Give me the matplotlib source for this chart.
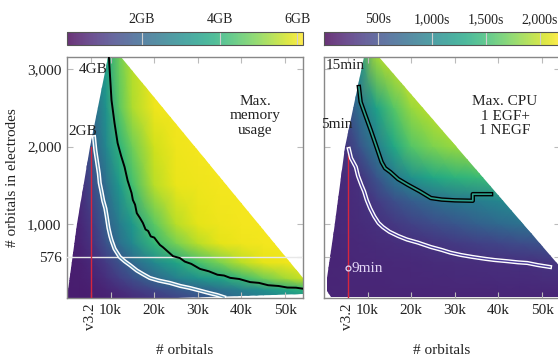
import matplotlib
matplotlib.use("Agg")
import matplotlib.pyplot as plt
from matplotlib.patches import Polygon
from matplotlib import patheffects as pe
from matplotlib.cm import ScalarMappable
from matplotlib.colors import Normalize

plt.rcParams['font.family'] = ['Liberation Serif', 'DejaVu Serif']

# ---- memory panel (GB), grid ----
MEM_X = [0, 3000, 6000, 9000, 12000, 15000, 20000, 25000, 30000, 35000, 40000, 45000, 50000, 55000]
MEM_Y = [45, 150, 300, 500, 750, 1000, 1500, 2000, 2500, 3200]
MEM_GB = [
    [0.55, 0.55, 0.58, 0.62, 0.70, 0.82, 1.05, 1.30, 1.60, 1.95, 2.30, 2.60, 2.90, 3.20],
    [0.55, 0.56, 0.60, 0.70, 0.85, 1.02, 1.35, 1.70, 1.95, 2.30, 2.70, 3.10, 3.60, 4.00],
    [0.55, 0.58, 0.68, 0.90, 1.18, 1.50, 2.10, 2.70, 3.20, 3.60, 4.20, 4.80, 5.30, 5.70],
    [0.55, 0.60, 0.80, 1.12, 1.60, 2.10, 2.90, 3.60, 4.30, 4.90, 5.50, 5.90, 6.00, 6.05],
    [0.56, 0.68, 0.98, 1.60, 2.30, 2.90, 4.10, 4.90, 5.50, 5.90, 6.00, 6.05, 6.05, 6.05],
    [0.58, 0.72, 1.12, 1.90, 2.60, 3.30, 4.60, 5.50, 5.90, 6.00, 6.05, 6.05, 6.05, 6.05],
    [0.60, 0.85, 1.45, 2.30, 3.30, 4.30, 5.50, 5.95, 6.00, 6.05, 6.05, 6.05, 6.05, 6.05],
    [0.65, 1.00, 1.90, 2.90, 4.00, 4.80, 5.70, 6.00, 6.05, 6.05, 6.05, 6.05, 6.05, 6.05],
    [0.80, 1.30, 2.10, 3.20, 4.60, 5.40, 6.00, 6.05, 6.05, 6.05, 6.05, 6.05, 6.05, 6.05],
    [1.00, 1.60, 2.50, 3.60, 4.80, 5.50, 6.00, 6.05, 6.05, 6.05, 6.05, 6.05, 6.05, 6.05],
]
MEM_EDGE_X = [0, 2300, 5300, 9400, 12300, 54100, 54100, 40000, 25000]
MEM_EDGE_Y = [45, 1000, 2000, 3155, 3155, 300, 100, 70, 45]

MEM_4GB_X = [9600, 10200, 10900, 11600, 12400, 13200, 13900, 14800, 15100, 15600, 16000, 16700,
             17400, 18000, 18600, 19200, 20000, 20600, 21300, 22000, 23000, 24300, 25900, 27000,
             28500, 30500, 32500, 34500, 36000, 37400, 39500, 42000, 44000, 46100, 48500, 50500,
             52500, 54100]
MEM_4GB_Y = [3155, 2600, 2300, 2045, 1880, 1735, 1560, 1400, 1310, 1250, 1140, 1080,
             1013, 930, 910, 840, 825, 780, 730, 700, 650, 585, 560, 515,
             485, 420, 390, 345, 335, 305, 290, 250, 240, 210, 200, 180,
             178, 165]
MEM_2GB_X = [6200, 6500, 6900, 7300, 7500, 7900, 8300, 8800, 9100, 9500, 9900, 10200, 10900,
             12100, 13200, 14400, 16000, 17500, 19000, 21000, 23600, 26000, 28200, 30500,
             32500, 34400, 36000]
MEM_2GB_Y = [2120, 1950, 1800, 1650, 1530, 1420, 1300, 1200, 1100, 950, 850, 790, 680,
             574, 520, 471, 400, 350, 303, 270, 239, 200, 174, 140,
             110, 84, 55]

# ---- CPU panel (seconds) ----
CPU_X = [0, 4000, 8000, 12000, 16000, 20000, 25000, 30000, 35000, 40000, 45000, 50000, 55000]
CPU_Y = [45, 250, 500, 750, 1000, 1300, 1600, 2000, 2500, 3200]
CPU_S = [
    [230, 230, 230, 230, 230, 230, 230, 230, 230, 230, 230, 230, 230],
    [230, 232, 235, 238, 240, 243, 246, 250, 254, 258, 262, 266, 270],
    [230, 235, 240, 245, 250, 255, 265, 275, 285, 295, 305, 320, 335],
    [230, 240, 255, 270, 285, 300, 330, 370, 410, 450, 500, 550, 600],
    [230, 250, 270, 300, 350, 420, 500, 580, 660, 740, 810, 870, 920],
    [230, 255, 285, 380, 520, 640, 760, 860, 920, 1000, 1070, 1130, 1180],
    [230, 260, 305, 560, 860, 1100, 1300, 1400, 1460, 1500, 1540, 1580, 1620],
    [230, 280, 550, 900, 1300, 1600, 1750, 1850, 1900, 1950, 2000, 2050, 2100],
    [250, 380, 800, 1250, 1600, 1850, 1980, 2080, 2150, 2185, 2185, 2185, 2185],
    [320, 600, 1100, 1900, 2050, 2150, 2185, 2185, 2185, 2185, 2185, 2185, 2185],
]
CPU_EDGE_X = [1500, 800, 650, 2300, 4800, 9100, 12500, 54500, 54500]
CPU_EDGE_Y = [60, 130, 300, 923, 2000, 3155, 3155, 420, 60]

CPU_15_X = [8000, 8400, 9500, 10700, 12000, 13200, 14000, 15200, 17000, 19300, 22000, 24500,
            27000, 30000, 34100, 34100, 38300]
CPU_15_Y = [2768, 2574, 2400, 2213, 2000, 1800, 1720, 1671, 1580, 1503, 1420, 1335,
            1315, 1305, 1300, 1385, 1385]
CPU_5_X = [5700, 6200, 7300, 7800, 8600, 9200, 9800, 10600, 11500, 12500, 13500, 15000, 17000,
           19000, 21500, 24500, 27000, 29000, 31400, 34000, 37000, 39100, 42000, 44500, 46600,
           49000, 51800]
CPU_5_Y = [1968, 1850, 1735, 1620, 1500, 1420, 1310, 1200, 1100, 1013, 960, 900, 845,
           800, 760, 703, 665, 630, 600, 575, 550, 535, 520, 505, 497,
           470, 445]

V32_X = 5450
V32_TOP = 2000
POINT_9MIN = (5450, 432)

XTICKS = [V32_X, 10000, 20000, 30000, 40000, 50000]
XTICK_LABELS = ['v3.2', '10k', '20k', '30k', '40k', '50k']
YTICKS = [576, 1000, 2000, 3000]
YTICK_LABELS = ['576', '1,000', '2,000', '3,000']

MEM_NORM = Normalize(0.07, 6.15)
CPU_NORM = Normalize(0, 2185)
TXT = '#222222'
FS = 11


def style(ax, left_labels):
    ax.set_xlim(0, 54100)
    ax.set_ylim(45, 3155)
    ax.set_xticks(XTICKS)
    ax.set_xticklabels(XTICK_LABELS, fontsize=FS, color=TXT)
    ax.get_xticklabels()[0].set_rotation(90)
    ax.set_yticks(YTICKS)
    ax.set_yticklabels(YTICK_LABELS, fontsize=FS, color=TXT)
    ax.tick_params(direction='in', color='#bbbbbb', length=4, width=0.8,
                   top=True, right=True, labelleft=left_labels, pad=4)
    for s in ax.spines.values():
        s.set_color('#888888')
        s.set_linewidth(1.0)
    ax.set_xlabel('# orbitals', fontsize=FS, color=TXT, labelpad=10)


def heat(ax, xs, ys, vals, ex, ey, norm):
    mesh = ax.pcolormesh(xs, ys, vals, shading='gouraud', cmap='viridis', norm=norm, zorder=1)
    clip = Polygon(list(zip(ex, ey)), closed=True, transform=ax.transData)
    mesh.set_clip_path(clip)


def contour_line(ax, xs, ys, outer, inner, lw_out, lw_in):
    ax.plot(xs, ys, color=inner, lw=lw_in, zorder=4,
            path_effects=[pe.Stroke(linewidth=lw_out, foreground=outer), pe.Normal()])


def cbar(fig, rect, norm, ticks, labels):
    cax = fig.add_axes(rect)
    cb = fig.colorbar(ScalarMappable(norm=norm, cmap='viridis'), cax=cax,
                      orientation='horizontal', alpha=0.8)
    cb.set_ticks(ticks)
    cb.set_ticklabels(labels)
    cax.xaxis.set_ticks_position('top')
    cax.tick_params(direction='in', length=9.4, width=0.8, color='#d0d0d0',
                    labelsize=10, labelcolor=TXT, pad=4)
    cb.outline.set_edgecolor('#555555')
    cb.outline.set_linewidth(0.8)


fig = plt.figure(figsize=(5.58, 3.6), dpi=100)
ax1 = fig.add_axes([67 / 558, 62 / 360, 236 / 558, 241 / 360])
ax2 = fig.add_axes([324 / 558, 62 / 360, 236 / 558, 241 / 360])

# memory
heat(ax1, MEM_X, MEM_Y, MEM_GB, MEM_EDGE_X, MEM_EDGE_Y, MEM_NORM)
ax1.axhline(576, color='#e8e8e8', lw=1.0, zorder=3)
ax1.plot([V32_X, V32_X], [45, V32_TOP], color='#d7263d', lw=1.0, zorder=3)
contour_line(ax1, MEM_2GB_X, MEM_2GB_Y, 'white', '#5b8fb0', 3.0, 0.9)
ax1.plot(MEM_4GB_X, MEM_4GB_Y, color='black', lw=1.4, zorder=4)
ax1.text(6000, 2990, '4GB', fontsize=FS, color=TXT, ha='center', va='center')
ax1.text(3700, 2190, '2GB', fontsize=FS, color=TXT, ha='center', va='center')
ax1.text(43100, 2400, 'Max.\nmemory\nusage', fontsize=FS, color=TXT, ha='center', va='center',
         linespacing=1.15)
style(ax1, True)
ax1.set_ylabel('# orbitals in electrodes', fontsize=FS, color=TXT, labelpad=6)

# cpu
heat(ax2, CPU_X, CPU_Y, CPU_S, CPU_EDGE_X, CPU_EDGE_Y, CPU_NORM)
ax2.plot([V32_X, V32_X], [45, V32_TOP], color='#d7263d', lw=1.0, zorder=3)
contour_line(ax2, CPU_5_X, CPU_5_Y, 'white', '#4b3c9a', 3.0, 1.0)
contour_line(ax2, CPU_15_X, CPU_15_Y, 'black', '#2a9d8a', 3.2, 1.2)
ax2.plot(*POINT_9MIN, 'o', ms=3.5, mfc='none', mec='#e2d6f5', mew=0.9, zorder=5)
ax2.text(6400, 432, '9min', fontsize=FS, color='#e2d6f5', ha='left', va='center', zorder=5)
ax2.text(4800, 3040, '15min', fontsize=FS, color=TXT, ha='center', va='center')
ax2.text(3000, 2290, '5min', fontsize=FS, color=TXT, ha='center', va='center')
ax2.text(41500, 2390, 'Max. CPU\n1 EGF+\n1 NEGF', fontsize=FS, color=TXT, ha='center',
         va='center', linespacing=1.15)
style(ax2, False)

cbar(fig, [67 / 558, 315 / 360, 236 / 558, 13 / 360], MEM_NORM, [2, 4, 6], ['2GB', '4GB', '6GB'])
cbar(fig, [324 / 558, 315 / 360, 236 / 558, 13 / 360], CPU_NORM, [500, 1000, 1500, 2000],
     ['500s', '1,000s', '1,500s', '2,000s'])

fig.savefig('out.png', dpi=100, facecolor='white')
